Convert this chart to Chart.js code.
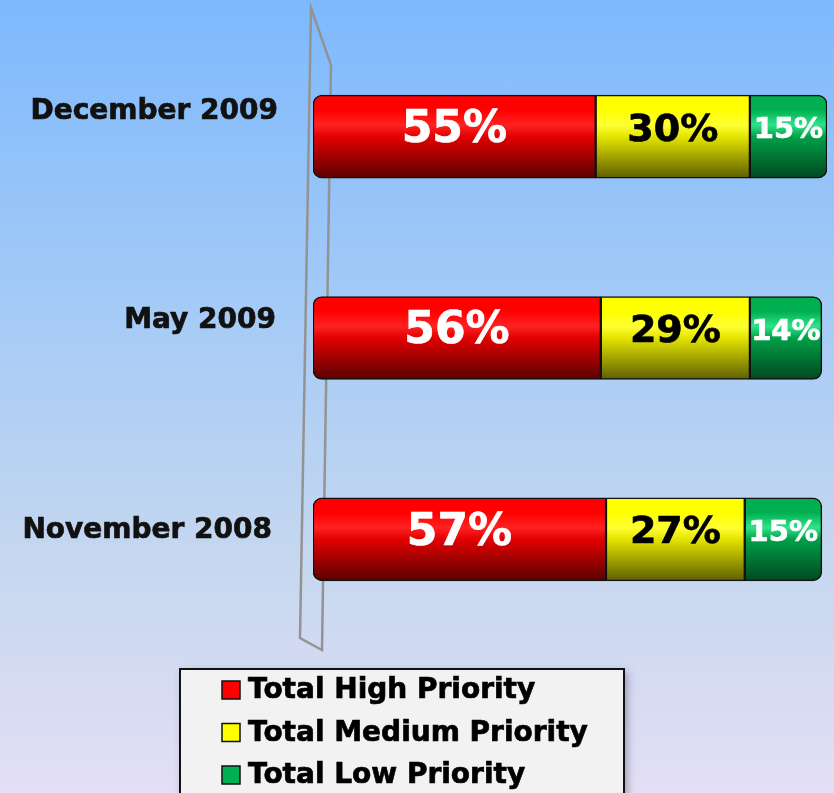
<!DOCTYPE html>
<html>
<head>
<meta charset="utf-8">
<script src="https://cdn.jsdelivr.net/npm/chart.js@4/dist/chart.umd.min.js"></script>
<style>
  html, body { margin: 0; padding: 0; overflow: hidden; }
  body {
    width: 834px; height: 793px;
    background: linear-gradient(to bottom, #7db9fd 0%, #a6cbf6 40%, #c3d6f0 68%, #e3dff4 100%);
  }
  #wrap { position: relative; width: 834px; height: 793px; }
</style>
</head>
<body>
<div id="wrap"><canvas id="grafico" width="834" height="793"></canvas></div>
<script>
// datos
const periodos = ["December 2009", "May 2009", "November 2008"];
const altaPrioridad = [55, 56, 57];
const mediaPrioridad = [30, 29, 27];
const bajaPrioridad = [15, 14, 15];
const series = ["Total High Priority", "Total Medium Priority", "Total Low Priority"];

// colores por serie: [arriba, brillo, medio, abajo]
const tonos = [
  ["#ff0000", "#ff2222", "#e20000", "#5a0000"],
  ["#ffff00", "#ffff33", "#e4e400", "#5e5e00"],
  ["#00b050", "#2ee38a", "#00a048", "#00481f"]
];
const planos = ["#ff0000", "#ffff00", "#00b050"];
const grosor = 83;
const fuente = "'DejaVu Sans', Verdana, sans-serif";

function degradado(ctx, i) {
  const chart = ctx.chart;
  const y = chart.scales.y;
  if (!y || ctx.dataIndex === undefined) return planos[i];
  const c = y.getPixelForValue(ctx.dataIndex);
  if (!isFinite(c)) return planos[i];
  const g = chart.ctx.createLinearGradient(0, c - grosor / 2, 0, c + grosor / 2);
  const t = tonos[i];
  g.addColorStop(0, t[0]);
  g.addColorStop(0.18, t[0]);
  g.addColorStop(0.36, t[1]);
  g.addColorStop(0.5, t[2]);
  g.addColorStop(1, t[3]);
  return g;
}

// texto un poco mas grueso
function texto(ctx, s, x, y, color) {
  ctx.fillStyle = color;
  ctx.strokeStyle = color;
  ctx.lineWidth = 0.7;
  ctx.fillText(s, x, y);
  ctx.strokeText(s, x, y);
}

// pared 3D detras de las barras
const pared = {
  id: "pared",
  beforeDatasetsDraw(chart) {
    const { ctx, chartArea: a } = chart;
    ctx.save();
    ctx.strokeStyle = "#939393";
    ctx.lineWidth = 2.5;
    ctx.beginPath();
    ctx.moveTo(a.left - 2, a.top - 28);
    ctx.lineTo(a.left + 18, a.top + 29);
    ctx.lineTo(a.left + 9, a.bottom + 10);
    ctx.lineTo(a.left - 13, a.bottom - 2);
    ctx.closePath();
    ctx.stroke();
    ctx.restore();
  }
};

// etiquetas del eje y y porcentajes
const etiquetas = {
  id: "etiquetas",
  afterDatasetsDraw(chart) {
    const { ctx, chartArea: a } = chart;
    const y = chart.scales.y;
    const desplY = [-25, -17, -9];
    const desplX = [-35, -37, -41];
    ctx.save();
    ctx.font = "bold 28px " + fuente;
    ctx.textAlign = "right";
    ctx.textBaseline = "middle";
    periodos.forEach((p, i) => {
      texto(ctx, p, a.left + desplX[i], y.getPixelForValue(i) + desplY[i], "#111");
    });

    const tam = [44, 38, 29];
    const col = ["#ffffff", "#000000", "#ffffff"];
    ctx.textAlign = "center";
    chart.data.datasets.forEach((ds, d) => {
      chart.getDatasetMeta(d).data.forEach((bar, i) => {
        const p = bar.getCenterPoint();
        ctx.font = "bold " + tam[d] + "px " + fuente;
        texto(ctx, ds.data[i] + "%", p.x, p.y - 6, col[d]);
      });
    });
    ctx.restore();
  }
};

// leyenda en caja
const leyenda = {
  id: "leyenda",
  afterDraw(chart) {
    const ctx = chart.ctx;
    const x = 180, y = 669, w = 444, h = 140;
    ctx.save();
    ctx.shadowColor = "rgba(60,60,90,0.45)";
    ctx.shadowBlur = 8;
    ctx.shadowOffsetX = 3;
    ctx.shadowOffsetY = 3;
    ctx.fillStyle = "#f2f2f2";
    ctx.fillRect(x, y, w, h);
    ctx.shadowColor = "transparent";
    ctx.strokeStyle = "#111";
    ctx.lineWidth = 2;
    ctx.strokeRect(x, y, w, h);

    ctx.font = "bold 28px " + fuente;
    ctx.textBaseline = "middle";
    ctx.textAlign = "left";
    chart.data.datasets.forEach((ds, i) => {
      const cy = y + 21 + i * 42.5;
      ctx.fillStyle = planos[i];
      ctx.fillRect(x + 42, cy - 9, 18, 18);
      ctx.strokeStyle = "#111";
      ctx.lineWidth = 1.5;
      ctx.strokeRect(x + 42, cy - 9, 18, 18);
      texto(ctx, ds.label, x + 68, cy + 1, "#000");
    });
    ctx.restore();
  }
};

const radios = [
  { topLeft: 9, bottomLeft: 9, topRight: 0, bottomRight: 0 },
  0,
  { topLeft: 0, bottomLeft: 0, topRight: 9, bottomRight: 9 }
];

const valores = [altaPrioridad, mediaPrioridad, bajaPrioridad];

new Chart("grafico", {
  type: "bar",
  data: {
    labels: periodos,
    datasets: series.map((s, i) => ({
      label: s,
      data: valores[i],
      backgroundColor: ctx => degradado(ctx, i),
      borderColor: "#111",
      borderWidth: 1.5,
      borderSkipped: false,
      borderRadius: radios[i],
      barThickness: grosor
    }))
  },
  options: {
    indexAxis: "y",
    responsive: false,
    animation: false,
    layout: { padding: { left: 313, right: 7, top: 36, bottom: 153 } },
    plugins: {
      legend: { display: false },
      tooltip: { enabled: false }
    },
    scales: {
      x: { stacked: true, min: 0, max: 100, display: false },
      y: { stacked: true, display: false }
    }
  },
  plugins: [pared, etiquetas, leyenda]
});
</script>
</body>
</html>
